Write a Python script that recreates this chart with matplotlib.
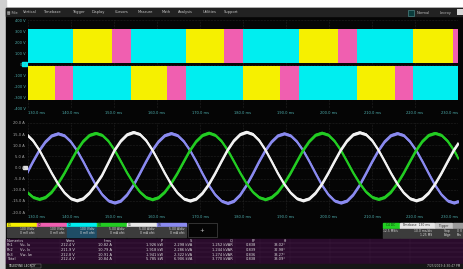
import numpy as np
import matplotlib
matplotlib.use('Agg')
from matplotlib import pyplot as plt
from matplotlib.patches import Rectangle

# ---- data ----
# time base (ms), 10 divisions
time_ticks = [130, 140, 150, 160, 170, 180, 190, 200, 210, 220, 230]
time_labels = ['%.1f ms' % t for t in time_ticks]

# top grid: inverter output levels (V)
volt_ticks = [-400, -300, -200, -100, 0, 100, 200, 300, 400]
volt_labels = ['-400 V', '-300 V', '-200 V', '-100 V', '0 V', '100 V', '200 V', '300 V', '400 V']

# PWM blocks (start/end in ms), upper half and lower half of top grid
up_cyan_start = [128.0, 154.0, 180.0, 206.6]
up_cyan_end = [140.5, 166.7, 193.0, 219.6]
up_yellow_start = [140.5, 166.7, 193.0, 219.6]
up_yellow_end = [149.5, 175.6, 202.1, 228.8]
up_pink_start = [149.5, 175.6, 202.1, 228.8]
up_pink_end = [154.0, 180.0, 206.6, 232.0]
lo_yellow_start = [128.0, 154.0, 180.0, 206.6]
lo_yellow_end = [136.3, 162.4, 188.5, 215.4]
lo_pink_start = [136.3, 162.4, 188.5, 215.4]
lo_pink_end = [140.5, 166.7, 193.0, 219.6]
lo_cyan_start = [140.5, 166.7, 193.0, 219.6]
lo_cyan_end = [154.0, 180.0, 206.6, 232.0]

# bottom grid: phase currents (A)
amp_ticks = [-20, -15, -10, -5, 0, 5, 10, 15, 20]
amp_labels = ['-20.0 A', '-15.0 A', '-10.0 A', '-5.0 A', '0.0 A', '5.0 A', '10.0 A', '15.0 A', '20.0 A']

# sampled record: first sample time and sample spacing (ms)
sample_t0 = 128.23
sample_dt = 1.461
white_vals = [15.8, 14.9, 12.1, 7.9, 2.7, -2.6, -7.4, -11.3, -13.9, -14.8, -13.9, -11.3, -7.6, -3.4, 2.2, 7.9, 12.1, 14.9,
              15.9, 15.0, 12.2, 7.9, 2.8, -2.6, -7.5, -11.4, -14.0, -14.9, -14.0, -11.4, -7.5, -2.6, 2.8, 8.0, 12.2, 15.0,
              16.0, 15.0, 12.2, 7.9, 2.7, -2.7, -7.5, -11.3, -13.9, -14.8, -13.9, -11.3, -7.4, -2.5, 2.8, 7.9, 12.1, 14.9,
              15.8, 14.9, 12.1, 7.8, 2.7, -2.6, -7.4, -11.3, -13.9, -14.8, -13.9, -11.3, -7.4, -2.6, 2.7, 7.9, 12.1]
blue_vals = [-7.9, -2.7, 2.7, 7.7, 11.7, 14.4, 15.3, 14.4, 11.7, 7.7, 2.7, -2.7, -7.9, -12.1, -14.9, -15.8, -14.9, -12.1,
             -7.9, -2.7, 2.7, 7.8, 11.8, 14.5, 15.4, 14.5, 11.8, 7.7, 2.7, -2.8, -8.0, -12.2, -15.0, -16.0, -15.0, -12.2,
             -7.9, -2.8, 2.7, 7.7, 11.7, 14.4, 15.3, 14.4, 11.7, 7.7, 2.7, -2.7, -7.9, -12.1, -14.9, -15.8, -14.9, -12.1,
             -7.9, -2.7, 2.7, 7.7, 11.8, 14.5, 15.4, 14.5, 11.7, 7.7, 2.7, -2.7, -7.9, -12.1, -14.9, -15.8, -14.9]
green_vals = [-7.1, -10.9, -13.3, -14.2, -13.3, -10.9, -7.1, -2.5, 2.7, 7.8, 11.9, 14.6, 15.5, 14.6, 11.9, 7.8, 2.7, -2.5,
              -7.1, -10.9, -13.4, -14.3, -13.4, -10.9, -7.1, -2.5, 2.7, 7.8, 11.9, 14.6, 15.6, 14.6, 11.9, 7.8, 2.7, -2.5,
              -7.2, -11.0, -13.4, -14.3, -13.3, -10.9, -7.1, -2.5, 2.7, 7.8, 11.9, 14.7, 15.6, 14.7, 11.9, 7.8, 2.7, -2.5,
              -7.1, -10.9, -13.3, -14.2, -13.3, -10.9, -7.1, -2.5, 2.7, 7.8, 11.9, 14.6, 15.5, 14.6, 11.9, 7.8, 2.7]

# descriptor boxes
ch_names = ['C1', 'C2', 'C3', 'C4', 'C5', 'C6']
ch_scale = ['100 V/div', '100 V/div', '100 V/div', '5.00 A/div', '5.00 A/div', '5.00 A/div']
ch_offset = ['0 mV ofst', '0 mV ofst', '0 mV ofst', '0 mA ofst', '0 mA ofst', '0 mA ofst']

# numerics table
tbl_headers = ['Vrms', 'Irms', 'P', 'S', 'Q', 'PF', '\u03b8']
tbl_rows = ['Ph1', 'Ph2', 'Ph3', 'Total']
tbl_sub = ['Vu, Iu', 'Vv, Iv', 'Vw, Iw', '']
tbl_vals = [['212.4 V', '10.82 A', '1.926 kW', '2.298 kVA', '1.252 kVAR', '0.838', '33.02\u00b0'],
            ['211.9 V', '10.79 A', '1.918 kW', '2.286 kVA', '1.244 kVAR', '0.839', '32.98\u00b0'],
            ['212.8 V', '10.91 A', '1.941 kW', '2.322 kVA', '1.274 kVAR', '0.836', '33.27\u00b0'],
            ['212.4 V', '10.84 A', '5.785 kW', '6.906 kVA', '3.770 kVAR', '0.838', '33.09\u00b0']]

menu_items = ['\u25a6 File', 'Vertical', 'Timebase', 'Trigger', 'Display', 'Cursors',
              'Measure', 'Math', 'Analysis', 'Utilities', 'Support']

# ---- layout helpers (pixel coords, y down) ----
W, H = 463, 269
def rect(x0, y0, x1, y1):
    return [x0 / W, 1 - y1 / H, (x1 - x0) / W, (y1 - y0) / H]

cyan = '#00eef0'
yellow = '#f6f000'
pink = '#f05fb0'
white = '#f2f2f2'
blue = '#8a8af0'
green = '#22cc22'
teal_txt = '#4fb0b0'
fs = 2.6

fig = plt.figure(figsize=(W / 100, H / 100), dpi=100)
fig.patch.set_facecolor('white')

# background / frame in pixel space
bg = fig.add_axes([0, 0, 1, 1])
bg.set_xlim(0, W)
bg.set_ylim(H, 0)
bg.axis('off')
bg.add_patch(Rectangle((0, 0), 6, H, color='#cfcfcf'))
bg.add_patch(Rectangle((6, 8), W - 6, H - 8, color='#050505'))
bg.add_patch(Rectangle((6, 8), W - 6, 8, color='#222222'))

# menu bar
menu_x = [7, 23, 43, 72, 92, 115, 138, 162, 178, 203, 224]
for x, s in zip(menu_x, menu_items):
    bg.text(x, 12, s, fontsize=fs, color='#c8c8c8', va='center', ha='left')
bg.add_patch(Rectangle((408, 10), 6, 6, facecolor='#0a3c3c', edgecolor='#5a9a9a', lw=0.4))
bg.text(417, 13, 'Normal', fontsize=fs, color='#bbbbbb', va='center')
bg.text(440, 13, 'Lecroy', fontsize=fs, color='#bbbbbb', va='center')
bg.add_patch(Rectangle((457, 9), 6, 6, facecolor='#d8d8d8'))


def time_axis(ax, pad):
    ax.set_xlim(130, 230)
    ax.set_xticks(time_ticks)
    labs = ax.set_xticklabels(time_labels, fontsize=fs, color=teal_txt)
    # first label sits right of its grid line, last one left of it
    labs[0].set_horizontalalignment('left')
    labs[-1].set_horizontalalignment('right')
    ax.tick_params(length=0, pad=pad)
    ax.grid(True, color='#3a3a3a', lw=0.4, ls=':', zorder=0)
    for sp in ax.spines.values():
        sp.set_visible(False)


# ---- top grid: PWM voltages ----
ax1 = fig.add_axes(rect(28, 20, 458, 109))
ax1.set_facecolor('#050505')
ax1.set_ylim(-400, 400)
blocks = [(up_cyan_start, up_cyan_end, cyan, 12), (up_yellow_start, up_yellow_end, yellow, 12),
          (up_pink_start, up_pink_end, pink, 12), (lo_yellow_start, lo_yellow_end, yellow, -320),
          (lo_pink_start, lo_pink_end, pink, -320), (lo_cyan_start, lo_cyan_end, cyan, -320)]
for starts, ends, col, base in blocks:
    ax1.broken_barh([(s, e - s) for s, e in zip(starts, ends)], (base, 308),
                    facecolors=col, zorder=2)
ax1.set_yticks(volt_ticks)
ax1.set_yticklabels(volt_labels, fontsize=fs, color=teal_txt)
time_axis(ax1, 1.5)

# ---- bottom grid: phase currents ----
ax2 = fig.add_axes(rect(28, 123, 458, 212))
ax2.set_facecolor('#050505')
ax2.set_ylim(-20, 20)
t = sample_t0 + sample_dt * np.arange(len(white_vals))
for vals, col in [(blue_vals, blue), (green_vals, green), (white_vals, white)]:
    v = np.array(vals)
    ax2.fill_between(t, v - 0.7, v + 0.7, color=col, lw=0, zorder=3)
    ax2.plot(t, v, color=col, lw=1.6, zorder=3)
ax2.set_yticks(amp_ticks)
ax2.set_yticklabels(amp_labels, fontsize=fs, color='#aaaaaa')
time_axis(ax2, 2.5)

# channel offset markers
bg.add_patch(Rectangle((22, 62), 5, 3.5, color=cyan))
bg.add_patch(Rectangle((23, 166), 4, 3, color='#dddddd'))

# ---- descriptor boxes ----
ch_colors = [yellow, pink, cyan, green, '#e8e8e8', blue]
for i, (name, sc, off, col) in enumerate(zip(ch_names, ch_scale, ch_offset, ch_colors)):
    x0 = 7 + 30 * i
    bg.add_patch(Rectangle((x0, 223), 28.5, 4, color=col))
    body = '#1f4d66' if name == 'C3' else '#3c3c3c'
    bg.add_patch(Rectangle((x0, 227), 28.5, 9.5, color=body))
    bg.text(x0 + 1, 225, name, fontsize=2.2, color='#222222', va='center')
    bg.text(x0 + 27.5, 229.5, sc, fontsize=2.2, color='#dddddd', va='center', ha='right')
    bg.text(x0 + 27.5, 233.5, off, fontsize=2.2, color='#dddddd', va='center', ha='right')
bg.add_patch(Rectangle((188, 223), 28.5, 13.5, facecolor='#050505', edgecolor='#555555', lw=0.4))
bg.text(202, 230, '+', fontsize=4, color='#cccccc', ha='center', va='center')

# timebase / trigger boxes
bg.add_patch(Rectangle((383, 223), 16, 5, color='#22d022'))
bg.add_patch(Rectangle((399.5, 223), 34, 5, color='#e6e6e6'))
bg.add_patch(Rectangle((434.5, 223), 17.5, 5, color='#c8c8c8'))
bg.add_patch(Rectangle((452.5, 223), 10.5, 5, color='#9a9a9a'))
bg.text(391, 225.5, 'C4 DC', fontsize=2.2, color='#113311', ha='center', va='center')
bg.text(416.5, 225.5, 'Timebase  130 ms', fontsize=2.2, color='#333333', ha='center', va='center')
bg.text(443, 225.5, 'Trigger', fontsize=2.2, color='#333333', ha='center', va='center')
for x0, w, l1, l2 in [(383, 16, '12.5 MS/s', ''), (399.5, 34, '10.0 ms/div', '1.25 MS'),
                      (434.5, 17.5, 'Stop', 'Edge'), (452.5, 10.5, '0 V', 'Pos')]:
    bg.add_patch(Rectangle((x0, 228.5), w, 9, color='#3c3c3c'))
    bg.text(x0 + w - 1, 231, l1, fontsize=2.2, color='#dddddd', ha='right', va='center')
    bg.text(x0 + w - 1, 235, l2, fontsize=2.2, color='#dddddd', ha='right', va='center')

# ---- numerics table ----
bg.add_patch(Rectangle((6, 239), W - 6, 24.5, color='#2a0b2c'))
col_x = [75, 112, 163, 192, 233, 256, 286]
bg.text(7, 241, 'Numerics', fontsize=fs, color='#dddddd', va='center')
for x, h in zip(col_x, tbl_headers):
    bg.text(x, 241, h, fontsize=fs, color='#dddddd', va='center', ha='right')
for r, (name, sub, vals) in enumerate(zip(tbl_rows, tbl_sub, tbl_vals)):
    y = 245.5 + 4.5 * r
    bg.plot([6, W], [y - 2.2, y - 2.2], color='#4a2a4c', lw=0.3)
    bg.text(7, y, name, fontsize=fs, color='#dddddd', va='center')
    bg.text(20, y, sub, fontsize=fs, color='#dddddd', va='center')
    for x, v in zip(col_x, vals):
        bg.text(x, y, v, fontsize=fs, color='#dddddd', va='center', ha='right')
for x in [60, 115, 165, 195, 235, 260, 290, 330, 370, 410]:
    bg.plot([x, x], [239, 263], color='#3a1c3c', lw=0.3)

# status bar
bg.add_patch(Rectangle((6, 263.5), W - 6, 6, color='#161616'))
bg.text(8, 266.3, 'TELEDYNE LECROY', fontsize=2.2, color='#dddddd', va='center')
bg.add_patch(Rectangle((31, 264), 10, 4, facecolor='#161616', edgecolor='#888888', lw=0.3))
bg.text(460, 266.3, '7/25/2019 4:30:47 PM', fontsize=2.2, color='#bbbbbb', va='center', ha='right')

plt.savefig('out.png', dpi=100)
